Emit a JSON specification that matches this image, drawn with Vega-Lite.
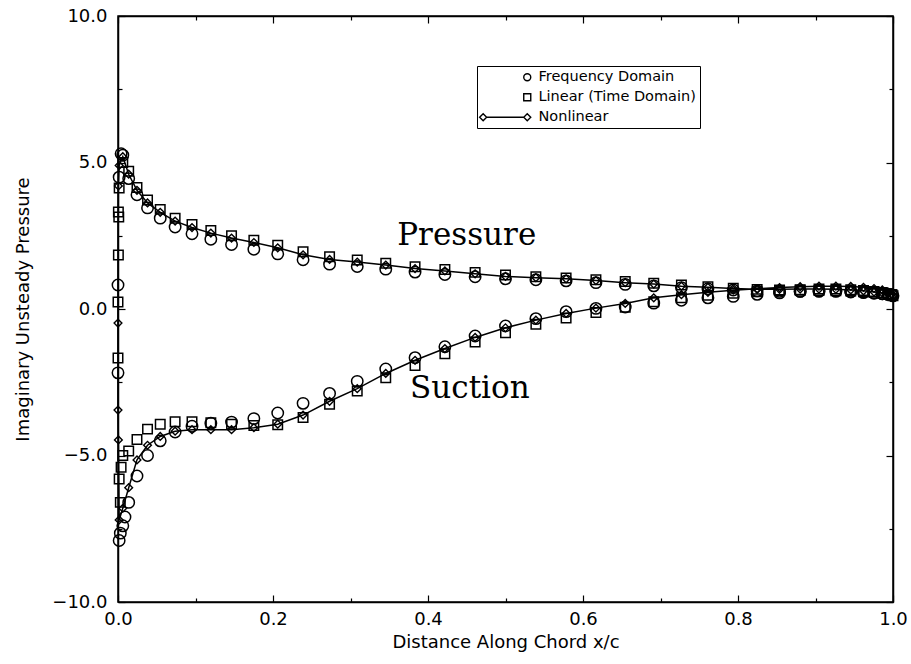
{
  "$schema": "https://vega.github.io/schema/vega-lite/v6.json",
  "width": 775,
  "height": 586,
  "autosize": {"type": "none"},
  "padding": {"left": 118, "top": 16, "right": 18, "bottom": 62},
  "background": "white",
  "config": {
    "view": {"stroke": "black", "strokeWidth": 1.5},
    "font": "DejaVu Sans",
    "axis": {"grid": false, "domainColor": "black", "domainWidth": 1.5, "tickColor": "black", "tickWidth": 1.2, "labelColor": "black", "titleColor": "black", "labelFont": "DejaVu Sans", "titleFont": "DejaVu Sans", "labelFontSize": 18, "titleFontSize": 18, "titleFontWeight": "normal", "labelFlush": false, "labelOverlap": false}
  },
  "datasets": {
    "pts": [
      {"s":"N","x":1.0,"y":0.45,"o":0},{"s":"N","x":0.9985,"y":0.5,"o":1},{"s":"N","x":0.9938,"y":0.52,"o":2},{"s":"N","x":0.9862,"y":0.55,"o":3},{"s":"N","x":0.9755,"y":0.58,"o":4},{"s":"N","x":0.9619,"y":0.62,"o":5},{"s":"N","x":0.9455,"y":0.65,"o":6},{"s":"N","x":0.9263,"y":0.67,"o":7},{"s":"N","x":0.9045,"y":0.68,"o":8},{"s":"N","x":0.8802,"y":0.68,"o":9},{"s":"N","x":0.8536,"y":0.67,"o":10},{"s":"N","x":0.8247,"y":0.67,"o":11},{"s":"N","x":0.7939,"y":0.7,"o":12},{"s":"N","x":0.7612,"y":0.74,"o":13},{"s":"N","x":0.727,"y":0.78,"o":14},{"s":"N","x":0.6913,"y":0.85,"o":15},{"s":"N","x":0.6545,"y":0.9,"o":16},{"s":"N","x":0.6167,"y":0.97,"o":17},{"s":"N","x":0.5782,"y":1.03,"o":18},{"s":"N","x":0.5392,"y":1.07,"o":19},{"s":"N","x":0.5,"y":1.11,"o":20},{"s":"N","x":0.4608,"y":1.2,"o":21},{"s":"N","x":0.4218,"y":1.3,"o":22},{"s":"N","x":0.3833,"y":1.38,"o":23},{"s":"N","x":0.3455,"y":1.5,"o":24},{"s":"N","x":0.3087,"y":1.6,"o":25},{"s":"N","x":0.273,"y":1.69,"o":26},{"s":"N","x":0.2388,"y":1.85,"o":27},{"s":"N","x":0.2061,"y":2.09,"o":28},{"s":"N","x":0.1753,"y":2.27,"o":29},{"s":"N","x":0.1465,"y":2.42,"o":30},{"s":"N","x":0.1198,"y":2.59,"o":31},{"s":"N","x":0.0955,"y":2.78,"o":32},{"s":"N","x":0.0737,"y":3.0,"o":33},{"s":"N","x":0.0545,"y":3.3,"o":34},{"s":"N","x":0.0381,"y":3.62,"o":35},{"s":"N","x":0.0245,"y":4.05,"o":36},{"s":"N","x":0.0138,"y":4.6,"o":37},{"s":"N","x":0.0062,"y":5.2,"o":38},{"s":"N","x":0.0015,"y":4.9,"o":39},
      {"s":"N","x":0.0005,"y":4.2,"o":40},{"s":"N","x":0.0,"y":-0.48,"o":41},{"s":"N","x":0.0,"y":-3.45,"o":42},{"s":"N","x":0.0005,"y":-4.47,"o":43},
      {"s":"N","x":0.0015,"y":-7.2,"o":44},{"s":"N","x":0.0062,"y":-6.8,"o":45},{"s":"N","x":0.0138,"y":-6.1,"o":46},{"s":"N","x":0.0245,"y":-5.15,"o":47},{"s":"N","x":0.0381,"y":-4.65,"o":48},{"s":"N","x":0.0545,"y":-4.35,"o":49},{"s":"N","x":0.0737,"y":-4.17,"o":50},{"s":"N","x":0.0955,"y":-4.12,"o":51},{"s":"N","x":0.1198,"y":-4.12,"o":52},{"s":"N","x":0.1465,"y":-4.12,"o":53},{"s":"N","x":0.1753,"y":-4.05,"o":54},{"s":"N","x":0.2061,"y":-3.93,"o":55},{"s":"N","x":0.2388,"y":-3.62,"o":56},{"s":"N","x":0.273,"y":-3.15,"o":57},{"s":"N","x":0.3087,"y":-2.72,"o":58},{"s":"N","x":0.3455,"y":-2.2,"o":59},{"s":"N","x":0.3833,"y":-1.75,"o":60},{"s":"N","x":0.4218,"y":-1.35,"o":61},{"s":"N","x":0.4608,"y":-0.97,"o":62},{"s":"N","x":0.5,"y":-0.64,"o":63},{"s":"N","x":0.5392,"y":-0.38,"o":64},{"s":"N","x":0.5782,"y":-0.15,"o":65},{"s":"N","x":0.6167,"y":0.03,"o":66},{"s":"N","x":0.6545,"y":0.19,"o":67},{"s":"N","x":0.6913,"y":0.38,"o":68},{"s":"N","x":0.727,"y":0.49,"o":69},{"s":"N","x":0.7612,"y":0.57,"o":70},{"s":"N","x":0.7939,"y":0.64,"o":71},{"s":"N","x":0.8247,"y":0.69,"o":72},{"s":"N","x":0.8536,"y":0.73,"o":73},{"s":"N","x":0.8802,"y":0.76,"o":74},{"s":"N","x":0.9045,"y":0.78,"o":75},{"s":"N","x":0.9263,"y":0.78,"o":76},{"s":"N","x":0.9455,"y":0.77,"o":77},{"s":"N","x":0.9619,"y":0.74,"o":78},{"s":"N","x":0.9755,"y":0.7,"o":79},{"s":"N","x":0.9862,"y":0.65,"o":80},{"s":"N","x":0.9938,"y":0.58,"o":81},{"s":"N","x":0.9985,"y":0.52,"o":82},{"s":"N","x":1.0,"y":0.45,"o":83},

      {"s":"F","x":0.0,"y":0.82},{"s":"F","x":0.004,"y":5.3},{"s":"F","x":0.0015,"y":4.5},{"s":"F","x":0.0062,"y":5.25},{"s":"F","x":0.0138,"y":4.45},{"s":"F","x":0.0245,"y":3.9},{"s":"F","x":0.0381,"y":3.45},{"s":"F","x":0.0545,"y":3.1},{"s":"F","x":0.0737,"y":2.8},{"s":"F","x":0.0955,"y":2.57},{"s":"F","x":0.1198,"y":2.38},{"s":"F","x":0.1465,"y":2.2},{"s":"F","x":0.1753,"y":2.04},{"s":"F","x":0.2061,"y":1.88},{"s":"F","x":0.2388,"y":1.68},{"s":"F","x":0.273,"y":1.53},{"s":"F","x":0.3087,"y":1.45},{"s":"F","x":0.3455,"y":1.36},{"s":"F","x":0.3833,"y":1.26},{"s":"F","x":0.4218,"y":1.18},{"s":"F","x":0.4608,"y":1.1},{"s":"F","x":0.5,"y":1.03},{"s":"F","x":0.5392,"y":1.0},{"s":"F","x":0.5782,"y":0.96},{"s":"F","x":0.6167,"y":0.9},{"s":"F","x":0.6545,"y":0.84},{"s":"F","x":0.6913,"y":0.79},{"s":"F","x":0.727,"y":0.73},{"s":"F","x":0.7612,"y":0.69},{"s":"F","x":0.7939,"y":0.65},{"s":"F","x":0.8247,"y":0.62},{"s":"F","x":0.8536,"y":0.6},{"s":"F","x":0.8802,"y":0.6},{"s":"F","x":0.9045,"y":0.6},{"s":"F","x":0.9263,"y":0.6},{"s":"F","x":0.9455,"y":0.58},{"s":"F","x":0.9619,"y":0.56},{"s":"F","x":0.9755,"y":0.54},{"s":"F","x":0.9862,"y":0.52},{"s":"F","x":0.9938,"y":0.5},{"s":"F","x":0.9985,"y":0.48},{"s":"F","x":1.0,"y":0.45},
      {"s":"F","x":0.0,"y":-2.18},{"s":"F","x":0.003,"y":-7.65},{"s":"F","x":0.009,"y":-7.1},{"s":"F","x":0.0015,"y":-7.9},{"s":"F","x":0.0062,"y":-7.4},{"s":"F","x":0.0138,"y":-6.6},{"s":"F","x":0.0245,"y":-5.7},{"s":"F","x":0.0381,"y":-5.0},{"s":"F","x":0.0545,"y":-4.5},{"s":"F","x":0.0737,"y":-4.2},{"s":"F","x":0.0955,"y":-4.0},{"s":"F","x":0.1198,"y":-3.9},{"s":"F","x":0.1465,"y":-3.86},{"s":"F","x":0.1753,"y":-3.74},{"s":"F","x":0.2061,"y":-3.55},{"s":"F","x":0.2388,"y":-3.22},{"s":"F","x":0.273,"y":-2.88},{"s":"F","x":0.3087,"y":-2.47},{"s":"F","x":0.3455,"y":-2.05},{"s":"F","x":0.3833,"y":-1.66},{"s":"F","x":0.4218,"y":-1.29},{"s":"F","x":0.4608,"y":-0.92},{"s":"F","x":0.5,"y":-0.58},{"s":"F","x":0.5392,"y":-0.33},{"s":"F","x":0.5782,"y":-0.09},{"s":"F","x":0.6167,"y":0.02},{"s":"F","x":0.6545,"y":0.07},{"s":"F","x":0.6913,"y":0.2},{"s":"F","x":0.727,"y":0.3},{"s":"F","x":0.7612,"y":0.38},{"s":"F","x":0.7939,"y":0.43},{"s":"F","x":0.8247,"y":0.5},{"s":"F","x":0.8536,"y":0.55},{"s":"F","x":0.8802,"y":0.6},{"s":"F","x":0.9045,"y":0.62},{"s":"F","x":0.9263,"y":0.62},{"s":"F","x":0.9455,"y":0.6},{"s":"F","x":0.9619,"y":0.58},{"s":"F","x":0.9755,"y":0.55},{"s":"F","x":0.9862,"y":0.52},{"s":"F","x":0.9938,"y":0.5},{"s":"F","x":0.9985,"y":0.48},

      {"s":"L","x":0.0005,"y":3.31},{"s":"L","x":0.0005,"y":1.84},{"s":"L","x":0.001,"y":3.14},{"s":"L","x":0.0,"y":0.24},{"s":"L","x":0.0015,"y":4.13},{"s":"L","x":0.0062,"y":5.0},{"s":"L","x":0.0138,"y":4.7},{"s":"L","x":0.0245,"y":4.15},{"s":"L","x":0.0381,"y":3.72},{"s":"L","x":0.0545,"y":3.4},{"s":"L","x":0.0737,"y":3.1},{"s":"L","x":0.0955,"y":2.88},{"s":"L","x":0.1198,"y":2.68},{"s":"L","x":0.1465,"y":2.5},{"s":"L","x":0.1753,"y":2.35},{"s":"L","x":0.2061,"y":2.18},{"s":"L","x":0.2388,"y":1.95},{"s":"L","x":0.273,"y":1.78},{"s":"L","x":0.3087,"y":1.67},{"s":"L","x":0.3455,"y":1.56},{"s":"L","x":0.3833,"y":1.44},{"s":"L","x":0.4218,"y":1.35},{"s":"L","x":0.4608,"y":1.25},{"s":"L","x":0.5,"y":1.16},{"s":"L","x":0.5392,"y":1.1},{"s":"L","x":0.5782,"y":1.06},{"s":"L","x":0.6167,"y":1.0},{"s":"L","x":0.6545,"y":0.94},{"s":"L","x":0.6913,"y":0.88},{"s":"L","x":0.727,"y":0.82},{"s":"L","x":0.7612,"y":0.76},{"s":"L","x":0.7939,"y":0.71},{"s":"L","x":0.8247,"y":0.67},{"s":"L","x":0.8536,"y":0.65},{"s":"L","x":0.8802,"y":0.64},{"s":"L","x":0.9045,"y":0.63},{"s":"L","x":0.9263,"y":0.62},{"s":"L","x":0.9455,"y":0.61},{"s":"L","x":0.9619,"y":0.59},{"s":"L","x":0.9755,"y":0.57},{"s":"L","x":0.9862,"y":0.54},{"s":"L","x":0.9938,"y":0.51},{"s":"L","x":0.9985,"y":0.49},{"s":"L","x":1.0,"y":0.45},
      {"s":"L","x":0.0,"y":-1.67},{"s":"L","x":0.003,"y":-6.6},{"s":"L","x":0.004,"y":-5.4},{"s":"L","x":0.0015,"y":-5.8},{"s":"L","x":0.0062,"y":-5.0},{"s":"L","x":0.0138,"y":-4.85},{"s":"L","x":0.0245,"y":-4.45},{"s":"L","x":0.0381,"y":-4.1},{"s":"L","x":0.0545,"y":-3.93},{"s":"L","x":0.0737,"y":-3.85},{"s":"L","x":0.0955,"y":-3.85},{"s":"L","x":0.1198,"y":-3.88},{"s":"L","x":0.1465,"y":-3.93},{"s":"L","x":0.1753,"y":-3.98},{"s":"L","x":0.2061,"y":-3.95},{"s":"L","x":0.2388,"y":-3.7},{"s":"L","x":0.273,"y":-3.25},{"s":"L","x":0.3087,"y":-2.8},{"s":"L","x":0.3455,"y":-2.35},{"s":"L","x":0.3833,"y":-1.93},{"s":"L","x":0.4218,"y":-1.53},{"s":"L","x":0.4608,"y":-1.13},{"s":"L","x":0.5,"y":-0.81},{"s":"L","x":0.5392,"y":-0.52},{"s":"L","x":0.5782,"y":-0.31},{"s":"L","x":0.6167,"y":-0.12},{"s":"L","x":0.6545,"y":0.06},{"s":"L","x":0.6913,"y":0.25},{"s":"L","x":0.727,"y":0.38},{"s":"L","x":0.7612,"y":0.47},{"s":"L","x":0.7939,"y":0.54},{"s":"L","x":0.8247,"y":0.59},{"s":"L","x":0.8536,"y":0.63},{"s":"L","x":0.8802,"y":0.66},{"s":"L","x":0.9045,"y":0.68},{"s":"L","x":0.9263,"y":0.68},{"s":"L","x":0.9455,"y":0.66},{"s":"L","x":0.9619,"y":0.63},{"s":"L","x":0.9755,"y":0.6},{"s":"L","x":0.9862,"y":0.56},{"s":"L","x":0.9938,"y":0.52},{"s":"L","x":0.9985,"y":0.49}
    ],
    "notes": [
      {"t": "Pressure", "x": 0.45, "y": 2.18},
      {"t": "Suction", "x": 0.454, "y": -3.04}
    ]
  },
  "data": {"name": "pts"},
  "layer": [
    {
      "transform": [{"filter": "datum.s == 'N'"}],
      "mark": {"type": "line", "color": "black", "strokeWidth": 1.5},
      "encoding": {
        "x": {"field": "x", "type": "quantitative", "scale": {"domain": [0, 1], "nice": false, "zero": false},
          "axis": {"orient": "top", "labels": false, "title": null, "domain": true,
            "values": [0, 0.1, 0.2, 0.3, 0.4, 0.5, 0.6, 0.7, 0.8, 0.9, 1],
            "tickSize": {"condition": {"test": "abs(datum.value*5 - round(datum.value*5)) < 0.001", "value": -7}, "value": -4}}},
        "y": {"field": "y", "type": "quantitative", "scale": {"domain": [-10, 10], "nice": false, "zero": false},
          "axis": {"orient": "right", "labels": false, "title": null, "domain": true,
            "values": [-10, -7.5, -5, -2.5, 0, 2.5, 5, 7.5, 10],
            "tickSize": {"condition": {"test": "abs(datum.value % 5) < 0.001", "value": -7}, "value": -4}}},
        "order": {"field": "o", "type": "quantitative"}
      }
    },
    {
      "transform": [{"filter": "datum.s != 'N'"}],
      "mark": {"type": "point", "filled": false, "stroke": "black", "strokeWidth": 1.5, "opacity": 1},
      "encoding": {
        "x": {"field": "x", "type": "quantitative",
          "axis": {"orient": "bottom", "title": "Distance Along Chord x/c",
            "values": [0, 0.1, 0.2, 0.3, 0.4, 0.5, 0.6, 0.7, 0.8, 0.9, 1],
            "labelExpr": "abs(datum.value*5 - round(datum.value*5)) < 0.001 ? format(datum.value, '.1f') : ''",
            "tickSize": {"condition": {"test": "abs(datum.value*5 - round(datum.value*5)) < 0.001", "value": -7}, "value": -4},
            "labelPadding": 15, "titlePadding": 2}},
        "y": {"field": "y", "type": "quantitative",
          "axis": {"orient": "left", "title": "Imaginary Unsteady Pressure",
            "values": [-10, -7.5, -5, -2.5, 0, 2.5, 5, 7.5, 10],
            "labelExpr": "abs(datum.value % 5) < 0.001 ? format(datum.value, '.1f') : ''",
            "tickSize": {"condition": {"test": "abs(datum.value % 5) < 0.001", "value": -7}, "value": -4},
            "labelPadding": 18, "titlePadding": 19}},
        "shape": {"field": "s", "type": "nominal",
          "scale": {"domain": ["F", "L", "N"], "range": ["circle", "square", "M0,-1L1,0L0,1L-1,0Z M-1,0L-11.6,0 M-11.6,0L-12.6,-1L-13.6,0L-12.6,1Z"]},
          "legend": {"title": null, "orient": "none", "legendX": 359, "legendY": 50,
            "labelExpr": "datum.label == 'F' ? 'Frequency Domain' : datum.label == 'L' ? 'Linear (Time Domain)' : 'Nonlinear'",
            "labelFont": "DejaVu Sans", "labelFontSize": 14.5, "labelColor": "black", "labelLimit": 400,
            "symbolSize": 49, "symbolFillColor": "transparent", "symbolStrokeColor": "black", "symbolStrokeWidth": 1.4,
            "symbolOffset": 39, "labelOffset": 4, "rowPadding": 5,
            "strokeColor": "black", "padding": 4, "fillColor": "white"}},
        "size": {"field": "s", "type": "nominal", "scale": {"domain": ["F", "L"], "range": [130, 90]}, "legend": null}
      }
    },
    {
      "transform": [{"filter": "datum.s == 'N'"}],
      "mark": {"type": "point", "shape": "diamond", "filled": false, "stroke": "black", "strokeWidth": 1.4, "size": 60, "opacity": 1},
      "encoding": {
        "x": {"field": "x", "type": "quantitative", "axis": null},
        "y": {"field": "y", "type": "quantitative", "axis": null}
      }
    },
    {
      "data": {"name": "notes"},
      "mark": {"type": "text", "font": "DejaVu Serif", "fontSize": 31, "align": "center", "baseline": "alphabetic", "color": "black"},
      "encoding": {
        "x": {"field": "x", "type": "quantitative", "axis": null},
        "y": {"field": "y", "type": "quantitative", "axis": null},
        "text": {"field": "t"}
      }
    }
  ],
  "resolve": {"axis": {"x": "independent", "y": "independent"}}
}
